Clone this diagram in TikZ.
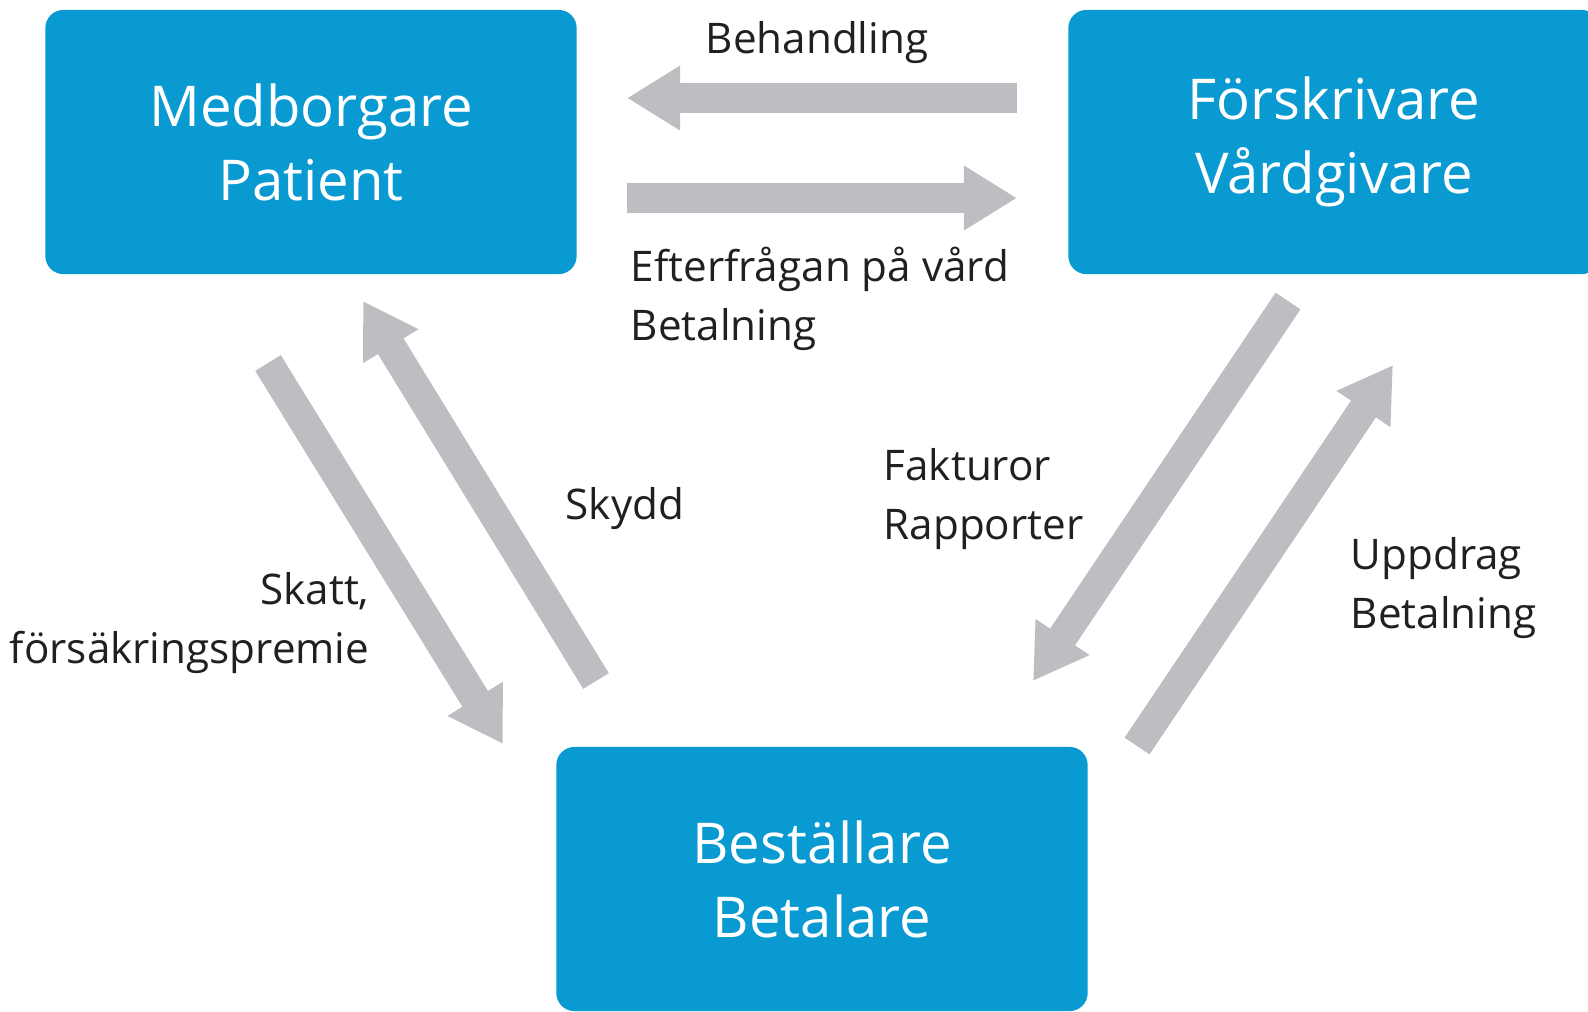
\documentclass[tikz,border=0pt]{standalone}
\usepackage{fontspec}
\setmainfont{Open Sans}
\usetikzlibrary{arrows.meta}
\definecolor{boxblue}{RGB}{9,154,210}
\definecolor{flowgrey}{RGB}{190,190,194}
\definecolor{txtgrey}{RGB}{35,31,32}

\begin{document}
\begin{tikzpicture}[x=0.01cm,y=-0.01cm]
\tikzset{actor/.style={fill=boxblue,rounded corners=0.18cm,minimum width=5.31cm,minimum height=2.64cm,text=white,align=center,font=\fontsize{16}{21}\selectfont}}
\tikzset{flow/.style={draw=flowgrey,line width=0.30cm,-{Triangle[width=0.61cm,length=0.53cm]}}}
\tikzset{lbl/.style={text=txtgrey,font=\fontsize{12}{16.5}\selectfont,inner sep=0pt}}

\useasboundingbox (0,0) rectangle (1588,1011);

% the three actors
\node[actor] (med) at (311,142) {Medborgare\\Patient};
\node[actor] (fors) at (1334,142) {Förskrivare\\Vårdgivare};
\node[actor] (best) at (822,879) {Beställare\\Betalare};

% arrow ends
\coordinate (beh-s) at (1017,98);  \coordinate (beh-e) at (627,98);
\coordinate (eft-s) at (627,198);  \coordinate (eft-e) at (1017,198);
\coordinate (ska-s) at (268,363);  \coordinate (ska-e) at (503,744);
\coordinate (sky-s) at (596,681);  \coordinate (sky-e) at (363,301);
\coordinate (fak-s) at (1288,301); \coordinate (fak-e) at (1033,681);
\coordinate (upp-s) at (1137,746); \coordinate (upp-e) at (1393,365);

\draw[flow] (beh-s) -- (beh-e);
\draw[flow] (eft-s) -- (eft-e);
\draw[flow] (ska-s) -- (ska-e);
\draw[flow] (sky-s) -- (sky-e);
\draw[flow] (fak-s) -- (fak-e);
\draw[flow] (upp-s) -- (upp-e);

% labels (base = last line)
\node[lbl,anchor=base] (behl) at (817,53) {Behandling};
\node[lbl,anchor=base west,align=left] (eftl) at (630,340) {Efterfrågan på vård\\Betalning};
\node[lbl,anchor=base west] (skyl) at (565,519) {Skydd};
\node[lbl,anchor=base east,align=right] (skal) at (370,663) {Skatt,\\försäkringspremie};
\node[lbl,anchor=base west,align=left] (fakl) at (883,539) {Fakturor\\Rapporter};
\node[lbl,anchor=base west,align=left] (uppl) at (1350,628) {Uppdrag\\Betalning};

\end{tikzpicture}
\end{document}
